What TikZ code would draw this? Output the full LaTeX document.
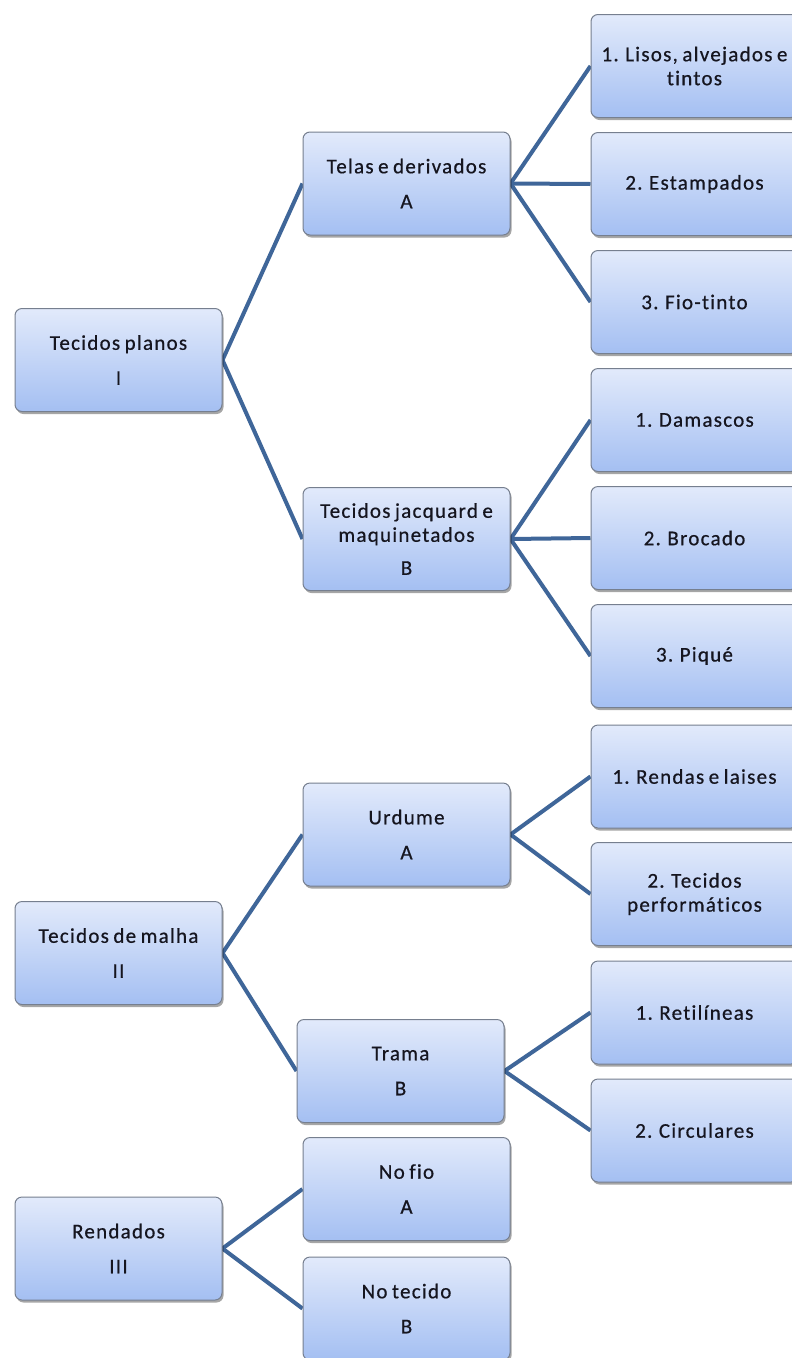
\documentclass[tikz,border=0pt]{standalone}
\usepackage{fontspec}
\setmainfont{Carlito}[LetterSpace=6,WordSpace=0.75,Ligatures={NoCommon},FakeBold=0.6]
\usetikzlibrary{shadows,backgrounds}
\definecolor{linkc}{HTML}{3F6699}
\definecolor{boxtop}{HTML}{E2EAFB}
\definecolor{boxbot}{HTML}{A4BFF2}
\definecolor{boxborder}{HTML}{767F8F}
\definecolor{textc}{HTML}{15151F}
\tikzset{
  box/.style={draw=boxborder, line width=1pt, rounded corners=7pt,
    top color=boxtop, bottom color=boxbot,
    minimum width=207pt, minimum height=103pt, inner sep=2pt,
    align=center, font=\fontsize{21}{24}\selectfont, text=textc,
    drop shadow={opacity=0.35, shadow xshift=1.5pt, shadow yshift=-2.5pt, fill=black}},
  link/.style={draw=linkc, line width=4pt},
}
\begin{document}
\begin{tikzpicture}[x=1pt,y=-1pt]
\path[use as bounding box, clip] (0,0) rectangle (792,1358);
% level 1
\node[box] (tp) at (118.5,360) {Tecidos planos\\[11pt]I};
\node[box] (tm) at (118.5,953) {Tecidos de malha\\[11pt]II};
\node[box] (re) at (118.5,1248.5) {Rendados\\[11pt]III};
% level 2
\node[box] (ta) at (406.5,183.5) {Telas e derivados\\[11pt]A};
\node[box] (tj) at (406.5,539) {Tecidos jacquard e\\maquinetados\\[9pt]B};
\node[box] (ur) at (406.5,834.5) {Urdume\\[11pt]A};
\node[box] (tr) at (400.5,1071) {Trama\\[11pt]B};
\node[box] (nf) at (406.5,1189) {No fio\\[11pt]A};
\node[box] (nt) at (406.5,1308.5) {No tecido\\[11pt]B};
% level 3
\node[box] (c1) at (694.5,66) {1. Lisos, alvejados e\\tintos};
\node[box] (c2) at (694.5,184) {2. Estampados};
\node[box] (c3) at (694.5,302) {3. Fio-tinto};
\node[box] (d1) at (694.5,420) {1. Damascos};
\node[box] (d2) at (694.5,538) {2. Brocado};
\node[box] (d3) at (694.5,656) {3. Piqué};
\node[box] (e1) at (694.5,776.5) {1. Rendas e laises};
\node[box] (e2) at (694.5,894) {2. Tecidos\\performáticos};
\node[box] (f1) at (694.5,1012.5) {1. Retilíneas};
\node[box] (f2) at (694.5,1130.5) {2. Circulares};
\begin{scope}[on background layer]
\fill[white] (0,0) rectangle (792,1358);
\draw[link] (tp.east) -- (ta.west);
\draw[link] (tp.east) -- (tj.west);
\draw[link] (ta.east) -- (c1.west);
\draw[link] (ta.east) -- (c2.west);
\draw[link] (ta.east) -- (c3.west);
\draw[link] (tj.east) -- (d1.west);
\draw[link] (tj.east) -- (d2.west);
\draw[link] (tj.east) -- (d3.west);
\draw[link] (tm.east) -- (ur.west);
\draw[link] (tm.east) -- (tr.west);
\draw[link] (ur.east) -- (e1.west);
\draw[link] (ur.east) -- (e2.west);
\draw[link] (tr.east) -- (f1.west);
\draw[link] (tr.east) -- (f2.west);
\draw[link] (re.east) -- (nf.west);
\draw[link] (re.east) -- (nt.west);
\end{scope}
\end{tikzpicture}
\end{document}
